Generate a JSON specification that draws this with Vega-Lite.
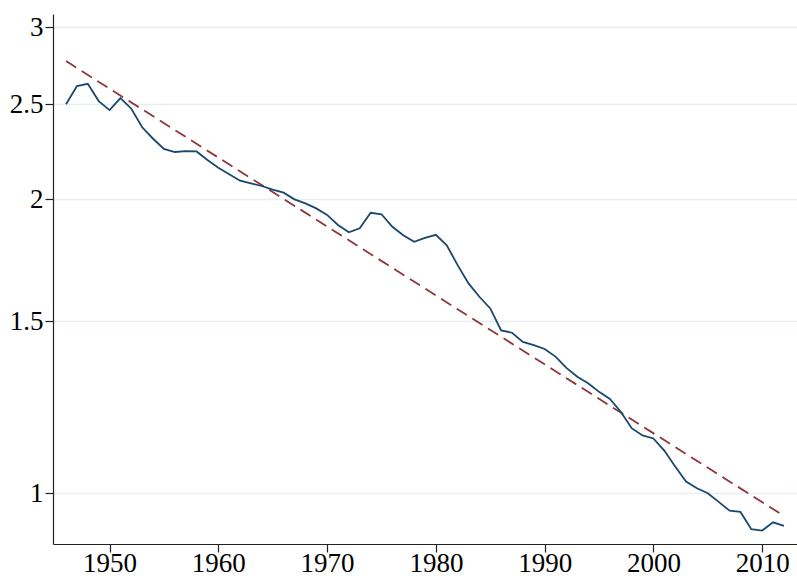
{
  "$schema": "https://vega.github.io/schema/vega-lite/v6.json",
  "autosize": {"type": "none"},
  "background": "#FFFFFF",
  "width": 744,
  "height": 530,
  "padding": {"left": 53, "top": 14, "right": 0, "bottom": 32},
  "config": {
    "view": {"stroke": null},
    "axis": {
      "labelFont": "Liberation Serif",
      "labelFontSize": 27,
      "labelColor": "#000000",
      "domainColor": "#222222",
      "domainWidth": 1.2,
      "tickColor": "#222222",
      "tickWidth": 1.2,
      "tickSize": 8,
      "title": null
    }
  },
  "datasets": {
    "series": [
      {"year": 1946, "value": 2.501}, {"year": 1947, "value": 2.611}, {"year": 1948, "value": 2.625},
      {"year": 1949, "value": 2.520}, {"year": 1950, "value": 2.467}, {"year": 1951, "value": 2.538},
      {"year": 1952, "value": 2.475}, {"year": 1953, "value": 2.369}, {"year": 1954, "value": 2.306},
      {"year": 1955, "value": 2.251}, {"year": 1956, "value": 2.235}, {"year": 1957, "value": 2.240},
      {"year": 1958, "value": 2.238}, {"year": 1959, "value": 2.193}, {"year": 1960, "value": 2.154},
      {"year": 1961, "value": 2.121}, {"year": 1962, "value": 2.089}, {"year": 1963, "value": 2.076},
      {"year": 1964, "value": 2.063}, {"year": 1965, "value": 2.045}, {"year": 1966, "value": 2.031},
      {"year": 1967, "value": 1.999}, {"year": 1968, "value": 1.980}, {"year": 1969, "value": 1.957},
      {"year": 1970, "value": 1.927}, {"year": 1971, "value": 1.882}, {"year": 1972, "value": 1.850},
      {"year": 1973, "value": 1.867}, {"year": 1974, "value": 1.937}, {"year": 1975, "value": 1.930},
      {"year": 1976, "value": 1.874}, {"year": 1977, "value": 1.837}, {"year": 1978, "value": 1.809},
      {"year": 1979, "value": 1.826}, {"year": 1980, "value": 1.839}, {"year": 1981, "value": 1.794},
      {"year": 1982, "value": 1.712}, {"year": 1983, "value": 1.640}, {"year": 1984, "value": 1.589},
      {"year": 1985, "value": 1.546}, {"year": 1986, "value": 1.468}, {"year": 1987, "value": 1.460},
      {"year": 1988, "value": 1.429}, {"year": 1989, "value": 1.418}, {"year": 1990, "value": 1.405},
      {"year": 1991, "value": 1.380}, {"year": 1992, "value": 1.344}, {"year": 1993, "value": 1.316},
      {"year": 1994, "value": 1.296}, {"year": 1995, "value": 1.270}, {"year": 1996, "value": 1.249},
      {"year": 1997, "value": 1.212}, {"year": 1998, "value": 1.166}, {"year": 1999, "value": 1.146},
      {"year": 2000, "value": 1.138}, {"year": 2001, "value": 1.106}, {"year": 2002, "value": 1.065},
      {"year": 2003, "value": 1.028}, {"year": 2004, "value": 1.012}, {"year": 2005, "value": 1.000},
      {"year": 2006, "value": 0.980}, {"year": 2007, "value": 0.960}, {"year": 2008, "value": 0.957},
      {"year": 2009, "value": 0.919}, {"year": 2010, "value": 0.916}, {"year": 2011, "value": 0.934},
      {"year": 2012, "value": 0.926}
    ],
    "trend": [
      {"year": 1946, "value": 2.769},
      {"year": 2012, "value": 0.948}
    ]
  },
  "layer": [
    {
      "data": {"name": "trend"},
      "mark": {"type": "line", "color": "#90353b", "strokeWidth": 1.8, "strokeDash": [12, 6.5]},
      "encoding": {
        "x": {
          "field": "year",
          "type": "quantitative",
          "scale": {"domain": [1944.8, 2013.2], "nice": false, "zero": false},
          "axis": {
            "values": [1950, 1960, 1970, 1980, 1990, 2000, 2010],
            "format": "d",
            "grid": false,
            "labelPadding": -2
          }
        },
        "y": {
          "field": "value",
          "type": "quantitative",
          "scale": {"type": "log", "domain": [0.8874, 3.094], "nice": false},
          "axis": {
            "values": [1, 1.5, 2, 2.5, 3],
            "format": "~g",
            "grid": true,
            "gridColor": "#e6eef0",
            "gridWidth": 1.5,
            "labelPadding": 2
          }
        }
      }
    },
    {
      "data": {"name": "series"},
      "mark": {"type": "line", "color": "#1a476f", "strokeWidth": 1.8},
      "encoding": {
        "x": {"field": "year", "type": "quantitative"},
        "y": {"field": "value", "type": "quantitative"}
      }
    }
  ]
}
